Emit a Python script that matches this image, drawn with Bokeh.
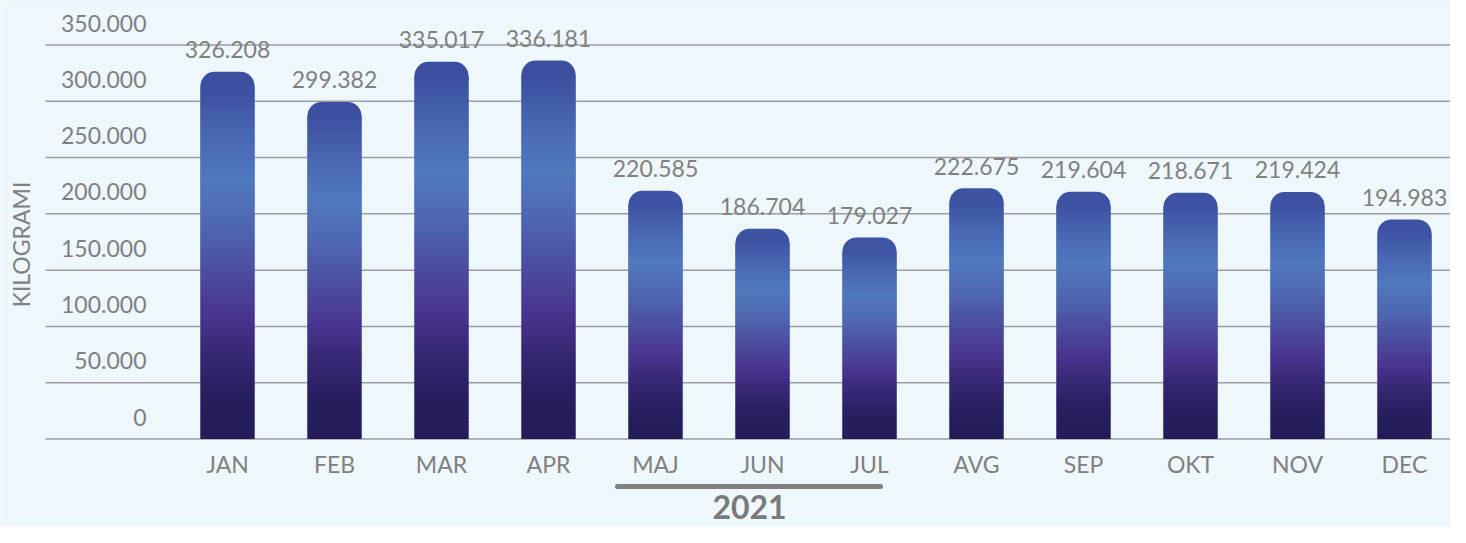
import numpy as np
from bokeh.plotting import figure
from bokeh.models import Range1d
from bokeh.core.properties import value
from bokeh.embed import file_html
from bokeh.resources import INLINE

# ---------------- data ----------------
months = ["JAN", "FEB", "MAR", "APR", "MAJ", "JUN", "JUL", "AVG", "SEP", "OKT", "NOV", "DEC"]
kilograms = [326208, 299382, 335017, 336181, 220585, 186704, 179027,
             222675, 219604, 218671, 219424, 194983]
value_labels = ["326.208", "299.382", "335.017", "336.181", "220.585", "186.704", "179.027",
                "222.675", "219.604", "218.671", "219.424", "194.983"]
y_ticks = [0, 50000, 100000, 150000, 200000, 250000, 300000, 350000]
y_tick_labels = ["0", "50.000", "100.000", "150.000", "200.000", "250.000", "300.000", "350.000"]
y_axis_label = "KILOGRAMI"
year_label = "2021"

# ---------------- layout / style ----------------
W, H = 1450, 527
PX_X = 107.0             # pixels per category
X0_S = 227.0             # screen x of first category centre
PX_Y = 1.1257 / 1000.0   # pixels per kg
Y0_S = 438.5             # screen y of zero line

BG = "#eef8fc"
GRAY = "#808080"
GRID = "#9c9c9c"
FONT = value("Lato")


def sx2x(sx):
    return (sx - X0_S) / PX_X


def sy2y(sy):
    return (Y0_S - sy) / PX_Y


stops = [
    (0.00, "#241b58"),
    (0.13, "#281f60"),
    (0.25, "#3a2a78"),
    (0.34, "#4a3590"),
    (0.47, "#4c50a0"),
    (0.58, "#4f67b0"),
    (0.71, "#5079be"),
    (0.81, "#4a6ab4"),
    (0.91, "#4158a6"),
    (1.00, "#37479a"),
]


def hex2rgb(h):
    h = h.lstrip("#")
    return np.array([int(h[i:i + 2], 16) for i in (0, 2, 4)], dtype=float)


def grad(f):
    for (f0, c0), (f1, c1) in zip(stops[:-1], stops[1:]):
        if f <= f1:
            t = 0 if f1 == f0 else (f - f0) / (f1 - f0)
            c = hex2rgb(c0) * (1 - t) + hex2rgb(c1) * t
            return "#%02x%02x%02x" % tuple(int(round(v)) for v in c)
    return stops[-1][1]


p = figure(width=W, height=H, title=None,
           x_range=Range1d(sx2x(0), sx2x(W)),
           y_range=Range1d(sy2y(H), sy2y(0)),
           output_backend="svg", toolbar_location=None, min_border=0,
           background_fill_color=BG, border_fill_color=BG, outline_line_color=None)
p.xaxis.visible = False
p.yaxis.visible = False
p.xgrid.visible = False
p.ygrid.visible = False

idx = list(range(len(months)))

# grid lines
gx0, gx1 = sx2x(45), sx2x(W)
p.segment(x0=[gx0] * len(y_ticks), x1=[gx1] * len(y_ticks), y0=y_ticks, y1=y_ticks,
          line_color=GRID, line_width=1.5)

# bars: rounded cap + gradient slices
bar_w = 54 / PX_X
N = 90
cap = 14 / PX_Y
ov = 0.8 / PX_Y
cap_colors = [grad((v - cap) / v) for v in kilograms]
p.vbar(x=idx, top=kilograms, bottom=0, width=bar_w, fill_color=cap_colors,
       line_color=None, border_radius=(14, 14, 0, 0))

sx, sb, st, sc = [], [], [], []
for i, v in zip(idx, kilograms):
    hmax = v - cap
    for k in range(N):
        b = hmax * k / N
        t = hmax * (k + 1) / N
        sx.append(i)
        sb.append(b)
        st.append(min(t + ov, hmax + ov * 0.5))
        sc.append(grad(((b + t) / 2) / v))
p.vbar(x=sx, bottom=sb, top=st, width=bar_w, fill_color=sc, line_color=None)

# value labels above bars
p.text(x=idx, y=[v + 22 / PX_Y for v in kilograms], text=value_labels,
       text_align="center", text_baseline="middle", text_font=FONT,
       text_font_size="23px", text_color=GRAY)

# y tick labels
p.text(x=[sx2x(146)] * len(y_ticks), y=[t + 22 / PX_Y for t in y_ticks], text=y_tick_labels,
       text_align="right", text_baseline="middle", text_font=FONT,
       text_font_size="23px", text_color=GRAY)

# month labels
p.text(x=idx, y=[sy2y(463)] * len(months), text=months,
       text_align="center", text_baseline="middle", text_font=FONT,
       text_font_size="23px", text_color=GRAY)

# y axis title
p.text(x=[sx2x(20)], y=[sy2y(244)], text=[y_axis_label], angle=np.pi / 2,
       text_align="center", text_baseline="middle", text_font=FONT,
       text_font_size="23px", text_color=GRAY)

# year bracket line and label
p.segment(x0=[sx2x(617)], x1=[sx2x(880)], y0=[sy2y(486)], y1=[sy2y(486)],
          line_color="#7f7f7f", line_width=5, line_cap="round")
p.text(x=[sx2x(749)], y=[sy2y(506)], text=[year_label],
       text_align="center", text_baseline="middle", text_font=FONT,
       text_font_size="32px", text_font_style="bold", text_color="#7a7a7a")

open("out.html", "w").write(file_html(p, INLINE))
